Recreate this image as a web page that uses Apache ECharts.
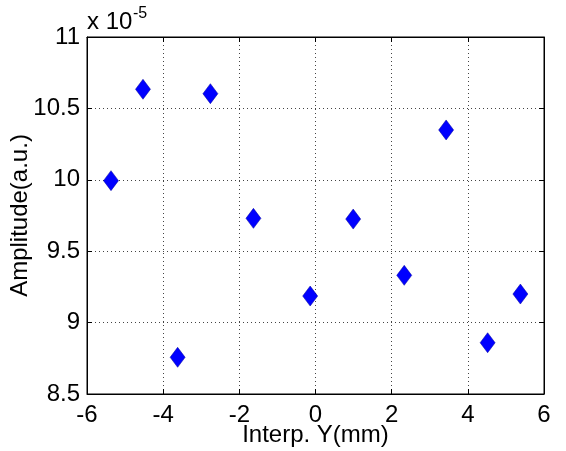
<!DOCTYPE html>
<html><head><meta charset="utf-8">
<script src="https://cdn.jsdelivr.net/npm/echarts@6/dist/echarts.min.js"></script>
<style>html,body{margin:0;padding:0;background:#fff}#c{width:566px;height:451px}</style>
</head><body><div id="c"></div>
<script>
// Interp. Y (mm)
const xValues = [-5.37, -4.53, -3.62, -2.76, -1.63, -0.14, 0.99, 2.33, 3.43, 4.52, 5.38];
// Amplitude (a.u.) in units of 1e-5
const yValues = [9.994, 10.634, 8.757, 10.603, 9.730, 9.186, 9.725, 9.331, 10.349, 8.859, 9.200];
const xTicks = {min: -6, max: 6, interval: 2};
const yTicks = {min: 8.5, max: 11, interval: 0.5};

const font = 'Liberation Sans, Arial, sans-serif';
const chart = echarts.init(document.getElementById('c'), null, {renderer: 'canvas'});
const grid = {left: 87, top: 37, right: 22, bottom: 57, outerBoundsMode: 'none', containLabel: false,
  show: true, borderColor: '#000', borderWidth: 1, backgroundColor: '#fff'};
const gridLine = {show: true, lineStyle: {color: '#444', type: [1, 3], width: 1}};
const data = xValues.map((x, i) => [x, yValues[i]]);
chart.setOption({
  animation: false,
  grid: grid,
  xAxis: [{
    type: 'value', position: 'bottom', min: xTicks.min, max: xTicks.max, interval: xTicks.interval,
    axisLine: {show: true, onZero: false, lineStyle: {color: '#000'}},
    axisTick: {show: true, inside: true, length: 5, lineStyle: {color: '#000'}},
    axisLabel: {color: '#000', fontSize: 24, fontFamily: font, margin: 9},
    splitLine: gridLine,
    name: 'Interp. Y(mm)', nameLocation: 'middle', nameGap: 29, nameMoveOverlap: false,
    nameTextStyle: {color: '#000', fontSize: 24, fontFamily: font}
  }, {
    type: 'value', position: 'top', min: xTicks.min, max: xTicks.max, interval: xTicks.interval,
    axisLine: {show: true, onZero: false, lineStyle: {color: '#000'}},
    axisTick: {show: true, inside: true, length: 5, lineStyle: {color: '#000'}},
    axisLabel: {show: false}, splitLine: {show: false}
  }],
  yAxis: [{
    type: 'value', position: 'left', min: yTicks.min, max: yTicks.max, interval: yTicks.interval,
    axisLine: {show: true, onZero: false, lineStyle: {color: '#000'}},
    axisTick: {show: true, inside: true, length: 5, lineStyle: {color: '#000'}},
    axisLabel: {color: '#000', fontSize: 24, fontFamily: font, margin: 7},
    splitLine: gridLine,
    name: 'Amplitude(a.u.)', nameLocation: 'middle', nameGap: 55, nameRotate: 90, nameMoveOverlap: false,
    nameTextStyle: {color: '#000', fontSize: 24, fontFamily: font}
  }, {
    type: 'value', position: 'right', min: yTicks.min, max: yTicks.max, interval: yTicks.interval,
    axisLine: {show: true, onZero: false, lineStyle: {color: '#000'}},
    axisTick: {show: true, inside: true, length: 5, lineStyle: {color: '#000'}},
    axisLabel: {show: false}, splitLine: {show: false}
  }],
  graphic: [{
    type: 'text', left: 87, top: 10,
    style: {text: 'x 10', fill: '#000', font: '24px ' + font}
  }, {
    type: 'text', left: 133, top: 6,
    style: {text: '-5', fill: '#000', font: '16px ' + font}
  }],
  series: [{
    type: 'scatter', data: data,
    symbol: 'diamond', symbolSize: [15, 20],
    itemStyle: {color: '#0000ff', opacity: 1, borderColor: '#00009a', borderWidth: 0.5}
  }]
});
</script></body></html>
